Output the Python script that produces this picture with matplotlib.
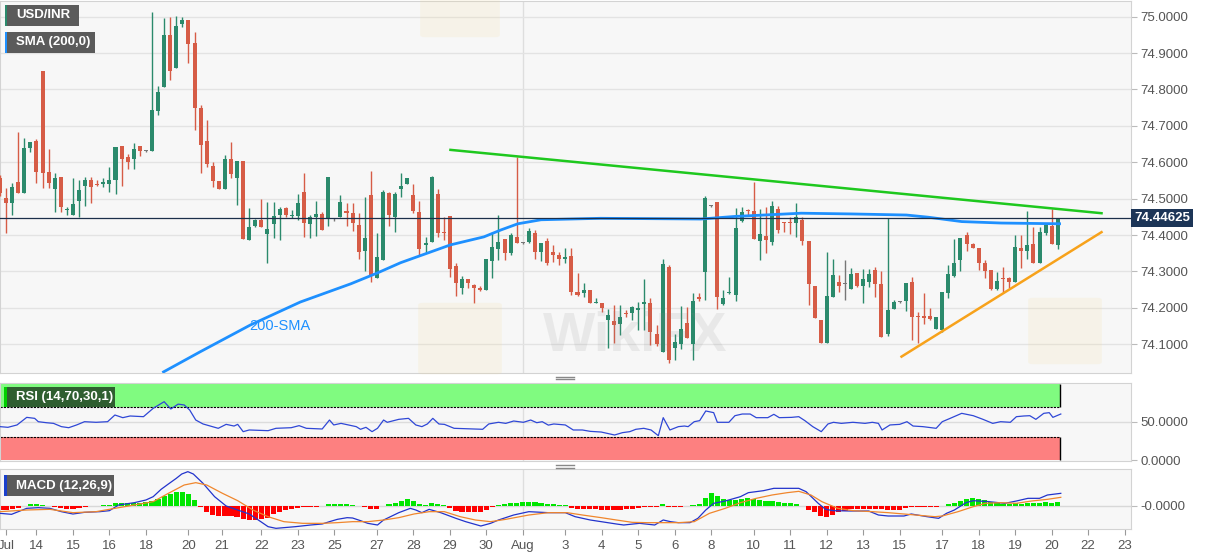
import matplotlib
matplotlib.use("Agg")
import matplotlib.pyplot as plt
import numpy as np
from matplotlib.patches import Rectangle, FancyBboxPatch
from matplotlib.lines import Line2D
import matplotlib.transforms as mtransforms

plt.rcParams['font.family'] = ['Liberation Sans', 'DejaVu Sans']

# ---- 4H candles, USD/INR ----
opens = [
    74.557, 74.502, 74.489, 74.547, 74.516, 74.639, 74.658, 74.851, 74.574, 74.527,
    74.560, 74.469, 74.455, 74.494, 74.535, 74.552, 74.541, 74.541, 74.541, 74.552,
    74.645, 74.614, 74.609, 74.645, 74.631, 74.631, 74.741, 74.807, 74.950, 74.859,
    74.980, 74.991, 74.928, 74.749, 74.658, 74.590, 74.549, 74.527, 74.609, 74.557,
    74.604, 74.387, 74.425, 74.442, 74.403, 74.431, 74.455, 74.475, 74.453, 74.453,
    74.519, 74.431, 74.450, 74.458, 74.444, 74.444, 74.450, 74.466, 74.461, 74.428,
    74.356, 74.511, 74.282, 74.332, 74.516, 74.450, 74.527, 74.541, 74.511, 74.464,
    74.373, 74.381, 74.513, 74.409, 74.453, 74.315, 74.255, 74.280, 74.263, 74.255,
    74.249, 74.329, 74.362, 74.389, 74.351, 74.395, 74.379, 74.381, 74.406, 74.354,
    74.384, 74.354, 74.346, 74.335, 74.343, 74.244, 74.241, 74.249, 74.214, 74.214,
    74.167, 74.164, 74.156, 74.186, 74.186, 74.194, 74.211, 74.214, 74.128, 74.079,
    74.313, 74.090, 74.101, 74.159, 74.101, 74.230, 74.299, 74.481, 74.491, 74.211,
    74.241, 74.236, 74.439, 74.469, 74.466, 74.384, 74.398, 74.381, 74.472, 74.436,
    74.436, 74.433, 74.442, 74.384, 74.260, 74.167, 74.104, 74.230, 74.271, 74.266,
    74.252, 74.296, 74.260, 74.271, 74.304, 74.266, 74.128, 74.197, 74.216, 74.219,
    74.271, 74.178, 74.178, 74.178, 74.142, 74.139, 74.241, 74.288, 74.332, 74.400,
    74.376, 74.365, 74.324, 74.304, 74.252, 74.282, 74.282, 74.271, 74.365, 74.356,
    74.376, 74.324, 74.406, 74.425, 74.373,
]
highs = [
    74.565, 74.530, 74.544, 74.684, 74.667, 74.656, 74.664, 74.851, 74.636, 74.571,
    74.560, 74.478, 74.557, 74.552, 74.560, 74.560, 74.552, 74.557, 74.587, 74.642,
    74.645, 74.623, 74.653, 74.645, 74.633, 75.013, 74.810, 74.997, 74.999, 75.002,
    74.999, 74.991, 74.958, 74.757, 74.716, 74.601, 74.549, 74.620, 74.656, 74.604,
    74.604, 74.475, 74.444, 74.499, 74.491, 74.491, 74.478, 74.478, 74.469, 74.513,
    74.571, 74.455, 74.494, 74.464, 74.560, 74.447, 74.511, 74.489, 74.489, 74.461,
    74.505, 74.576, 74.406, 74.524, 74.519, 74.519, 74.571, 74.557, 74.541, 74.494,
    74.395, 74.563, 74.527, 74.450, 74.453, 74.324, 74.288, 74.280, 74.266, 74.260,
    74.335, 74.409, 74.455, 74.389, 74.406, 74.614, 74.380, 74.420, 74.414, 74.379,
    74.392, 74.373, 74.354, 74.365, 74.365, 74.296, 74.269, 74.249, 74.227, 74.214,
    74.197, 74.208, 74.208, 74.194, 74.205, 74.216, 74.280, 74.227, 74.153, 74.335,
    74.318, 74.128, 74.205, 74.203, 74.241, 74.241, 74.508, 74.483, 74.491, 74.249,
    74.285, 74.475, 74.478, 74.472, 74.547, 74.472, 74.478, 74.494, 74.480, 74.436,
    74.450, 74.489, 74.450, 74.384, 74.260, 74.167, 74.354, 74.335, 74.291, 74.332,
    74.310, 74.296, 74.307, 74.307, 74.313, 74.302, 74.447, 74.222, 74.219, 74.269,
    74.285, 74.189, 74.241, 74.200, 74.175, 74.244, 74.318, 74.389, 74.392, 74.409,
    74.379, 74.365, 74.332, 74.304, 74.299, 74.313, 74.285, 74.400, 74.400, 74.466,
    74.422, 74.422, 74.431, 74.472, 74.447,
]
lows = [
    74.508, 74.406, 74.455, 74.516, 74.516, 74.629, 74.544, 74.530, 74.530, 74.464,
    74.464, 74.455, 74.455, 74.450, 74.480, 74.489, 74.535, 74.533, 74.519, 74.513,
    74.535, 74.582, 74.582, 74.617, 74.628, 74.631, 74.730, 74.807, 74.826, 74.859,
    74.972, 74.873, 74.689, 74.571, 74.587, 74.533, 74.527, 74.527, 74.557, 74.483,
    74.389, 74.387, 74.422, 74.422, 74.324, 74.392, 74.387, 74.450, 74.447, 74.442,
    74.395, 74.392, 74.398, 74.414, 74.425, 74.439, 74.450, 74.425, 74.411, 74.335,
    74.302, 74.271, 74.282, 74.332, 74.425, 74.409, 74.505, 74.541, 74.461, 74.346,
    74.351, 74.381, 74.395, 74.387, 74.285, 74.233, 74.238, 74.255, 74.214, 74.247,
    74.249, 74.282, 74.332, 74.332, 74.346, 74.379, 74.376, 74.379, 74.335, 74.329,
    74.318, 74.326, 74.318, 74.324, 74.236, 74.233, 74.230, 74.214, 74.214, 74.189,
    74.090, 74.104, 74.126, 74.175, 74.167, 74.139, 74.139, 74.098, 74.096, 74.079,
    74.049, 74.057, 74.087, 74.118, 74.057, 74.219, 74.222, 74.478, 74.197, 74.208,
    74.238, 74.219, 74.436, 74.453, 74.389, 74.332, 74.351, 74.373, 74.406, 74.409,
    74.403, 74.395, 74.373, 74.208, 74.172, 74.104, 74.104, 74.230, 74.244, 74.222,
    74.252, 74.258, 74.214, 74.258, 74.230, 74.120, 74.123, 74.197, 74.214, 74.192,
    74.112, 74.104, 74.156, 74.167, 74.142, 74.134, 74.227, 74.285, 74.302, 74.356,
    74.365, 74.304, 74.282, 74.249, 74.249, 74.244, 74.255, 74.271, 74.310, 74.335,
    74.324, 74.324, 74.400, 74.376, 74.362,
]
closes = [
    74.516, 74.489, 74.533, 74.516, 74.639, 74.656, 74.574, 74.571, 74.544, 74.557,
    74.478, 74.472, 74.486, 74.524, 74.552, 74.533, 74.538, 74.547, 74.552, 74.642,
    74.609, 74.601, 74.636, 74.631, 74.630, 74.744, 74.793, 74.950, 74.851, 74.975,
    74.991, 74.925, 74.749, 74.648, 74.595, 74.549, 74.527, 74.609, 74.568, 74.604,
    74.389, 74.422, 74.442, 74.422, 74.417, 74.453, 74.472, 74.455, 74.455, 74.489,
    74.433, 74.450, 74.458, 74.414, 74.560, 74.443, 74.491, 74.461, 74.433, 74.354,
    74.392, 74.291, 74.340, 74.519, 74.455, 74.513, 74.535, 74.557, 74.466, 74.362,
    74.379, 74.560, 74.406, 74.406, 74.307, 74.269, 74.280, 74.269, 74.255, 74.249,
    74.335, 74.368, 74.381, 74.351, 74.400, 74.379, 74.378, 74.411, 74.354, 74.379,
    74.324, 74.346, 74.335, 74.340, 74.244, 74.236, 74.249, 74.214, 74.216, 74.200,
    74.181, 74.153, 74.175, 74.184, 74.203, 74.200, 74.216, 74.134, 74.101, 74.321,
    74.057, 74.107, 74.142, 74.118, 74.219, 74.225, 74.502, 74.480, 74.230, 74.227,
    74.244, 74.420, 74.464, 74.466, 74.389, 74.403, 74.387, 74.480, 74.414, 74.433,
    74.433, 74.450, 74.384, 74.266, 74.172, 74.104, 74.233, 74.291, 74.260, 74.265,
    74.293, 74.260, 74.280, 74.293, 74.266, 74.120, 74.194, 74.216, 74.217, 74.269,
    74.175, 74.175, 74.172, 74.170, 74.175, 74.244, 74.293, 74.324, 74.392, 74.376,
    74.365, 74.324, 74.302, 74.252, 74.274, 74.280, 74.271, 74.368, 74.356, 74.373,
    74.324, 74.409, 74.428, 74.376, 74.44625,
]

# 200-SMA (candle index, price)
sma_idx = [26.9, 32.9, 41.2, 49.4, 57.7, 62.1, 65.9, 74.1, 79.6, 82.4, 85.2, 89.0,
           98.8, 115.3, 120.8, 131.8, 140.0, 149.1, 152.7, 158.2, 164.7, 174.3]
sma_val = [74.024, 74.079, 74.153, 74.216, 74.266, 74.296, 74.324, 74.373, 74.395,
           74.414, 74.431, 74.442, 74.446, 74.444, 74.451, 74.460, 74.458, 74.455,
           74.449, 74.437, 74.433, 74.431]

# trend lines (candle index, price)
resist_idx = [74.1, 181.2]
resist_val = [74.634, 74.460]
support_idx = [148.3, 181.2]
support_val = [74.066, 74.408]

# RSI (14)
rsi_idx = [0, 1.3, 2.8, 4.4, 5.7, 6.3, 7.6, 8.8, 10.1, 11.3,
           12.6, 13.9, 15.8, 17.7, 18.9, 20.2, 21.4, 23.6, 25.2, 27.0,
           28.1, 29.3, 30.3, 31.2, 32.2, 33.4, 35.9, 37.2, 38.5, 39.1,
           40.0, 41.0, 44.1, 45.4, 47.9, 49.2, 50.4, 53.0, 54.2, 54.9,
           56.1, 58.6, 59.3, 60.2, 61.2, 62.1, 63.1, 63.7, 65.6, 67.2,
           68.4, 69.4, 70.3, 71.2, 72.2, 73.1, 74.7, 79.4, 80.4, 82.0,
           83.2, 84.5, 86.1, 87.3, 88.3, 89.2, 90.2, 91.1, 93.0, 94.3,
           95.8, 97.1, 98.9,
           101.1, 102.4, 103.6, 104.6, 105.9, 107.1, 108.3, 109.1, 110.2, 111.6,
           112.6, 113.2, 114.2, 115.1, 116.1, 117.4, 118.0, 119.9, 120.9, 122.1,
           123.4, 124.4, 126.3, 127.3, 128.2, 130.2, 131.4, 132.4, 133.7, 135.1,
           136.2, 137.1, 138.4, 140.3, 142.3, 143.5, 144.5, 145.1, 146.4, 148.0,
           149.2, 150.2, 151.8, 154.0, 155.0, 156.3, 158.2, 160.1, 161.7, 163.3,
           164.6, 166.2, 167.2, 168.4, 169.4, 170.4, 171.7, 172.6, 173.2, 174.5]
rsi_val = [43.9, 43.0, 46.1, 56.1, 54.8, 50.4, 49.1, 48.2, 43.9, 42.5,
           46.1, 50.4, 49.6, 50.4, 59.2, 55.7, 57.9, 57.0, 68.0, 76.7,
           67.1, 73.5, 72.4, 65.8, 52.6, 47.4, 41.7, 46.9, 44.7, 46.9,
           37.3, 39.5, 38.6, 41.7, 42.5, 45.2, 41.7, 40.8, 52.6, 46.1,
           48.2, 43.9, 40.4, 43.0, 37.3, 41.7, 52.6, 49.6, 53.5, 54.8,
           46.1, 43.9, 47.4, 54.8, 47.4, 46.9, 41.7, 40.4, 47.4, 49.6,
           48.2, 51.3, 49.6, 52.6, 49.1, 50.4, 45.9, 47.4, 46.1, 39.5,
           39.5, 37.7, 36.8,
           32.9, 36.0, 37.3, 40.4, 41.7, 39.5, 32.0, 55.7, 39.5, 43.9,
           44.7, 43.9, 50.4, 51.8, 64.5, 62.3, 49.6, 49.6, 58.3, 60.5,
           60.5, 55.7, 55.7, 60.1, 55.7, 56.1, 57.0, 51.8, 43.9, 37.3,
           47.4, 49.6, 48.2, 49.6, 48.2, 49.6, 48.2, 39.5, 46.1, 46.9,
           50.4, 44.7, 43.9, 41.7, 50.4, 54.8, 61.4, 58.3, 53.5, 48.2,
           50.4, 49.6, 57.0, 57.9, 58.3, 53.5, 61.4, 62.3, 56.1, 60.5]

# MACD (12,26,9), values in thousandths
macd_idx = [0, 1.9, 4.4, 6.3, 8.2, 10.1, 12.0, 13.9, 16.4, 18.0,
            19.5, 22.1, 24.0, 25.2, 26.5, 27.7, 29.0, 29.9, 30.9, 31.8,
            33.4, 35.3, 37.2, 39.1, 41.0, 42.9, 44.1, 45.4, 48.6, 51.1,
            53.0, 54.2, 55.5, 57.1, 58.0, 59.3, 60.5, 62.1, 63.1, 65.6,
            67.5, 68.4, 69.4, 70.6, 72.5, 75.0, 76.6, 79.1, 80.7, 82.0,
            84.5, 87.0, 90.2, 93.0, 94.6, 97.1, 98.9,
            101.4, 102.6, 105.2, 107.7, 109.1, 110.3, 111.6, 113.5, 114.8, 116.1,
            117.4, 119.3, 121.8, 123.1, 125.6, 127.3, 128.9, 131.4, 132.6, 134.6,
            135.8, 137.1, 139.7, 142.9, 144.5, 146.1, 148.7, 149.9, 152.5, 154.4,
            155.7, 157.0, 158.9, 160.1, 162.7, 165.3, 167.2, 169.1, 171.0, 172.3,
            174.5]
macd_val = [-22, -25, -7, -5, -7, -17, -24, -19, -17, -14,
            3, 10, 18, 28, 50, 66, 83, 96, 103, 96,
            68, 28, 0, -12, -24, -47, -62, -67, -62, -57,
            -54, -47, -40, -35, -36, -44, -52, -57, -42, -20,
            -7, -12, -20, -10, -20, -37, -47, -60, -52, -42,
            -27, -17, -20, -20, -32, -42, -47,
            -54, -57, -52, -57, -42, -47, -50, -50, -37, -12,
            8, 15, 28, 40, 46, 53, 53, 53, 43, 8,
            -10, -14, -15, -15, -27, -30, -30, -24, -32, -37,
            -22, -12, 10, 16, 13, 8, 15, 23, 23, 33,
            38]
signal_idx = [0, 4.4, 8.2, 12.0, 15.8, 18.9, 22.1, 25.2, 27.7, 30.3,
              32.2, 34.0, 36.6, 39.1, 41.6, 44.1, 46.7, 49.8, 53.0, 55.5,
              58.0, 60.5, 63.1, 65.6, 68.1, 70.6, 73.1, 75.7, 78.2, 80.7,
              83.2, 87.0, 90.2, 93.3, 95.8, 98.9, 101.4, 104.0, 106.5, 109.1,
              111.6, 114.2, 116.7, 119.3, 121.8, 124.4, 127.0, 129.5, 131.4, 133.4,
              135.2, 137.8, 140.3, 143.5, 146.1, 148.7, 151.2, 153.8, 155.0, 157.6,
              160.1, 162.1, 164.6, 167.2, 169.7, 172.3, 174.5]
signal_val = [-17, -12, -10, -20, -17, -7, 3, 13, 38, 63,
              70, 63, 38, 16, -12, -32, -47, -52, -52, -50,
              -47, -47, -42, -35, -24, -17, -17, -32, -42, -47,
              -40, -27, -20, -20, -27, -35, -42, -49, -50, -50,
              -50, -47, -22, -7, 10, 23, 33, 40, 44, 33,
              13, -7, -14, -17, -20, -24, -28, -32, -30, -17,
              -2, 8, 10, 8, 15, 20, 26]
hist_val = [
    -12, -12, -9, -6, 0, 6, 6, 3, 0, -3,
    -6, -9, -9, -6, -3, 0, 0, 3, 3, 9,
    9, 9, 9, 9, 12, 15, 21, 30, 36, 42,
    42, 36, 18, -3, -18, -27, -30, -30, -30, -33,
    -39, -42, -42, -39, -36, -24, -18, -12, -9, -6,
    -3, -3, -3, 0, 6, 6, 6, 6, 3, 0,
    -3, -9, -9, 0, 6, 9, 15, 21, 15, 6,
    3, 9, 6, 3, -6, -15, -18, -18, -18, -18,
    -12, -3, 3, 6, 9, 9, 12, 12, 12, 9,
    6, 6, 3, 3, -6, -9, -9, -9, -9,
    -12, -12, -12, -12, -9, -9, -6, -3, -3, -3,
    6, -3, -3, -3, 0, 3, 6, 24, 39, 30,
    21, 18, 18, 21, 24, 21, 18, 15, 15, 12,
    9, 9, 6, 0, -12, -18, -30, -33, -27, -18,
    -15, -9, -9, -9, -9, -9, -9, -12, -12, -12,
    -6, -3, -3, -3, -3, -3, 0, 6, 9, 15,
    21, 24, 21, 18, 12, 9, 6, 6, 9, 6,
    9, 9, 9, 12, 9, 12,
]

date_pos = [1, 6, 12, 18, 24, 31, 36.5, 43, 49, 55, 62, 68, 74, 80, 86, 93, 99,
            105, 111, 117, 124, 130, 136, 142, 148, 155, 161, 167, 173, 179, 185]
date_labels = ['Jul', '14', '15', '16', '18', '20', '21', '22', '23', '25', '27',
               '28', '29', '30', 'Aug', '3', '4', '5', '6', '8', '10', '11', '12',
               '13', '15', '17', '18', '19', '20', '22', '23']
aug_pos = 86.0

GREEN, RED, DOJI = '#2b8a6c', '#d65c46', '#777777'
W, H = 1207, 555

fig = plt.figure(figsize=(W / 100, H / 100), dpi=100)


def px_box(x0, y0, x1, y1):
    return [x0 / W, 1 - y1 / H, (x1 - x0) / W, (y1 - y0) / H]


def px_rect(x0, y0, x1, y1, color, z=10, alpha=1.0):
    fig.add_artist(Rectangle((x0 / W, 1 - y1 / H), (x1 - x0) / W, (y1 - y0) / H,
                             transform=fig.transFigure, facecolor=color,
                             edgecolor='none', zorder=z, alpha=alpha))


ax = fig.add_axes(px_box(0, 1, 1131, 373))
ax_rsi = fig.add_axes(px_box(0, 383, 1131, 461), sharex=ax)
ax_macd = fig.add_axes(px_box(0, 469, 1131, 529), sharex=ax)

for a in (ax, ax_rsi, ax_macd):
    a.set_facecolor('#f7f7f7')
    for s in a.spines.values():
        s.set_color('#d3d3d3')
    a.yaxis.tick_right()
    a.tick_params(axis='y', colors='#bbbbbb', labelcolor='#555555', labelsize=9.5,
                  length=4, pad=3)
    a.axvline(aug_pos, color='#dedede', lw=1, zorder=0)

# ---- price panel ----
idx = np.arange(len(opens))
o = np.array(opens)
c = np.array(closes)
colors = [DOJI if abs(cc - oo) < 0.0012 else (GREEN if cc > oo else RED)
          for oo, cc in zip(o, c)]
ax.vlines(idx, lows, highs, colors=colors, lw=1, zorder=3)
body_lo = np.minimum(o, c)
body_h = np.maximum(np.abs(c - o), 0.003)
ax.bar(idx, body_h, bottom=body_lo, width=0.66, color=colors, zorder=4)

ax.plot(sma_idx, sma_val, color='#1e90ff', lw=2, zorder=5)
ax.plot(resist_idx, resist_val, color='#1ec81e', lw=1.8, zorder=5)
ax.plot(support_idx, support_val, color='#f7a21b', lw=1.8, zorder=5)
ax.axhline(closes[-1], color='#1c2f4a', lw=0.9, zorder=6)
ax.text(46.1, 74.150, '200-SMA', color='#1e90ff', fontsize=10.5, ha='center',
        va='center', zorder=6)

ax.set_xlim(0, 186.05)
ax.set_ylim(74.021, 75.043)
yt = np.round(np.arange(74.1, 75.01, 0.1), 1)
ax.set_yticks(yt)
ax.set_yticklabels([f'{v:.4f}' for v in yt])
ax.grid(axis='y', color='#e3e3e3', lw=1)
ax.tick_params(axis='x', bottom=False, labelbottom=False)
ax.set_axisbelow(True)

trans = mtransforms.blended_transform_factory(ax.transAxes, ax.transData)
ax.text(1.003, closes[-1], f'{closes[-1]:.5f}', transform=trans, color='white',
        fontsize=9.5, fontweight='bold', va='center', ha='left', zorder=10,
        bbox=dict(boxstyle='square,pad=0.22', fc='#1c3557', ec='none'))

# ---- RSI panel ----
band_end = 174.4
ax_rsi.add_patch(Rectangle((0, 70), band_end, 30, facecolor='#80fb80', edgecolor='none', zorder=1))
ax_rsi.add_patch(Rectangle((0, 0), band_end, 30, facecolor='#fd8080', edgecolor='none', zorder=1))
ax_rsi.hlines([70, 30], 0, band_end, colors='black', linestyles=(0, (2, 1)), lw=0.8, zorder=2)
ax_rsi.vlines(band_end, 70, 100, colors='black', lw=1, zorder=2)
ax_rsi.vlines(band_end, 0, 30, colors='black', lw=1, zorder=2)
ax_rsi.axhline(50, color='#dcdcdc', lw=1, zorder=0)
ax_rsi.plot(rsi_idx, rsi_val, color='#2f47d6', lw=0.9, zorder=3)
ax_rsi.set_ylim(-1.3, 101.3)
ax_rsi.set_yticks([50, 0])
ax_rsi.set_yticklabels(['50.0000', '0.0000'])
ax_rsi.tick_params(axis='x', bottom=False, labelbottom=False)

# ---- MACD panel ----
hist = np.array(hist_val) / 1000
hcol = ['#00e600' if v >= 0 else '#ff0000' for v in hist]
ax_macd.axhline(0, color='#d8d8d8', lw=1, zorder=0)
ax_macd.bar(np.arange(len(hist)), hist, width=0.85, color=hcol, zorder=2)
ax_macd.plot(macd_idx, np.array(macd_val) / 1000, color='#2233cc', lw=0.9, zorder=3)
ax_macd.plot(signal_idx, np.array(signal_val) / 1000, color='#f0862c', lw=0.9, zorder=3)
ax_macd.set_ylim(-0.069, 0.111)
ax_macd.set_yticks([0])
ax_macd.set_yticklabels(['-0.0000'])
ax_macd.set_xticks(date_pos)
ax_macd.set_xticklabels(date_labels)
ax_macd.tick_params(axis='x', colors='#999999', labelcolor='#555555', labelsize=9.5,
                    length=4, pad=4)

# ---- legend boxes ----
px_rect(5, 5, 79, 26, '#5b5b5b')
px_rect(5, 5, 7, 26, GREEN, z=11)
fig.text(16 / W, 1 - 15.5 / H, 'USD/INR', color='white', fontsize=9.5,
         fontweight='bold', va='center', zorder=12)
px_rect(5, 32, 95, 53, '#5b5b5b')
px_rect(5, 32, 7, 53, '#1e90ff', z=11)
fig.text(16 / W, 1 - 42.5 / H, 'SMA (200,0)', color='white', fontsize=9.5,
         fontweight='bold', va='center', zorder=12)
px_rect(4, 387, 115, 407, '#2f5e30')
px_rect(4, 387, 7, 407, '#00d000', z=11)
fig.text(16 / W, 1 - 397 / H, 'RSI (14,70,30,1)', color='white', fontsize=9.5,
         fontweight='bold', va='center', zorder=12)
px_rect(4, 475, 114, 496, '#5b5b5b')
px_rect(4, 475, 7, 496, '#1a3fcc', z=11)
fig.text(16 / W, 1 - 485.5 / H, 'MACD (12,26,9)', color='white', fontsize=9.5,
         fontweight='bold', va='center', zorder=12)

# panel resize handles
for yy in (376.5, 379, 465, 467.5):
    fig.add_artist(Line2D([556 / W, 574 / W], [1 - yy / H, 1 - yy / H],
                          transform=fig.transFigure, color='#888888', lw=1))

# faint watermark
for (x0, y0, x1, y1) in [(423, 305, 497, 372), (1033, 300, 1097, 362), (425, -20, 495, 35)]:
    fig.add_artist(FancyBboxPatch((x0 / W, 1 - y1 / H), (x1 - x0) / W, (y1 - y0) / H,
                                  boxstyle='round,pad=0.004', transform=fig.transFigure,
                                  fc='#f3dc9a', ec='none', alpha=0.16, zorder=8))
fig.text(635 / W, 1 - 337 / H, 'WikiFX', fontsize=40, fontweight='bold',
         color='#8a8a8a', alpha=0.13, ha='center', va='center', zorder=8)

fig.savefig('out.png', dpi=100)
